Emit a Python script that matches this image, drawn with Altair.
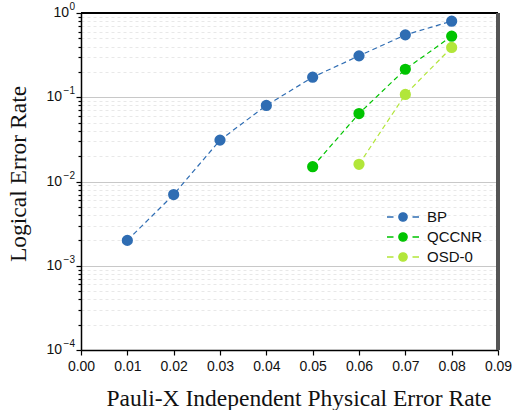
import altair as alt
import pandas as pd

# ---- data ----
bp_x = [0.01, 0.02, 0.03, 0.04, 0.05, 0.06, 0.07, 0.08]
bp_y = [0.002, 0.007, 0.031, 0.080, 0.173, 0.31, 0.55, 0.80]
qc_x = [0.05, 0.06, 0.07, 0.08]
qc_y = [0.015, 0.064, 0.215, 0.53]
osd_x = [0.06, 0.07, 0.08]
osd_y = [0.016, 0.108, 0.39]
series_names = ["BP", "QCCNR", "OSD-0"]
series_colors = ["#2f6db3", "#00c400", "#b2e63a"]

x_ticks = [round(i * 0.005, 3) for i in range(19)]
y_ticks = [k * 10.0 ** e for e in range(-4, 0) for k in range(1, 10)] + [1.0]
decade_exps = [0, -1, -2, -3, -4]

rows = []
for name, xs, ys in [("BP", bp_x, bp_y), ("QCCNR", qc_x, qc_y), ("OSD-0", osd_x, osd_y)]:
    for a, b in zip(xs, ys):
        rows.append({"series": name, "p": a, "ler": b})
df = pd.DataFrame(rows)
dec_df = pd.DataFrame({"e": decade_exps, "v": [10.0 ** e for e in decade_exps]})

W, H = 417, 337

is_major_x = "round(datum.value*1000) % 10 == 0"
is_decade = "abs(log(datum.value)/LN10 - round(log(datum.value)/LN10)) < 1e-6"

x_enc = alt.X(
    "p:Q",
    scale=alt.Scale(domain=[0, 0.09], nice=False, zero=False),
    axis=alt.Axis(
        values=x_ticks,
        title="Pauli-X Independent Physical Error Rate",
        labelExpr=f"{is_major_x} ? format(datum.value, '.2f') : ''",
        labelFlush=False,
        labelOverlap=False,
        tickSize={"condition": {"test": is_major_x, "value": 5}, "value": 3},
        gridOpacity={"condition": {"test": is_major_x, "value": 0}, "value": 1},
        gridColor="#dcdcdc",
        gridDash=[3, 3],
        gridWidth=0.8,
        labelFont="Liberation Sans",
        labelFontSize=14,
        labelColor="#111",
        labelPadding=4,
        titleFont="Liberation Serif",
        titleFontSize=23.5,
        titleFontWeight="normal",
        titleColor="#111",
        titleX=W / 2 + 9,
        titleY=55,
        titleBaseline="alphabetic",
        domainColor="#000",
        domainWidth=1.5,
        tickColor="#000",
        tickWidth=1.2,
    ),
)
y_enc = alt.Y(
    "ler:Q",
    scale=alt.Scale(type="log", domain=[1e-4, 1], nice=False),
    axis=alt.Axis(
        values=y_ticks,
        title="Logical Error Rate",
        labels=False,
        tickSize={"condition": {"test": is_decade, "value": 5}, "value": 3},
        gridDash={"condition": {"test": is_decade, "value": []}, "value": [3, 3]},
        gridColor={"condition": {"test": is_decade, "value": "#c8c8c8"}, "value": "#e2e2e2"},
        gridWidth={"condition": {"test": is_decade, "value": 1.2}, "value": 0.8},
        titleFont="Liberation Serif",
        titleFontSize=23.5,
        titleFontWeight="normal",
        titleColor="#111",
        titleX=-56,
        titleY=H / 2 - 8,
        titleBaseline="alphabetic",
        domainColor="#000",
        domainWidth=1.5,
        tickColor="#000",
        tickWidth=1.2,
    ),
)

color_scale = alt.Scale(domain=series_names, range=series_colors)

legend_path = ("M-1.6,0H-0.95M0.95,0H1.6"
               "M-0.42,0A0.42,0.42,0,1,0,0.42,0A0.42,0.42,0,1,0,-0.42,0Z")
leg = alt.Legend(title=None, orient="none", legendX=311, legendY=193,
                 symbolType=legend_path, symbolSize=400,
                 symbolStrokeWidth=1.3, labelOffset=13,
                 labelFont="Liberation Sans", labelFontSize=15,
                 labelColor="#111", rowPadding=1, padding=0)

lines = alt.Chart(df).mark_line(strokeDash=[5, 3.5], strokeWidth=1.2).encode(
    x=x_enc, y=y_enc,
    stroke=alt.Stroke("series:N", scale=color_scale, legend=leg),
    detail="series:N",
)

points = alt.Chart(df).mark_point(filled=True, size=85, opacity=1).encode(
    x="p:Q", y="ler:Q",
    fill=alt.Fill("series:N", scale=color_scale, legend=leg),
    stroke=alt.Stroke("series:N", scale=color_scale, legend=leg),
)

# y tick labels "10" with superscript exponent
base_lbl = alt.Chart(dec_df).transform_calculate(
    t="'10'", bx="datum.e == 0 ? -12 : -19"
).mark_text(align="right", baseline="middle", font="Liberation Sans",
            fontSize=14, color="#111").encode(
    x=alt.X("bx:Q", scale=None), y=alt.Y("v:Q"), text="t:N")
exp_lbl = alt.Chart(dec_df).transform_calculate(
    t="datum.e == 0 ? '0' : '\u2212' + abs(datum.e)"
).mark_text(align="right", baseline="middle", font="Liberation Sans",
            fontSize=10, dy=-6, color="#111").encode(
    x=alt.value(-6), y=alt.Y("v:Q"), text="t:N")

frame_top = alt.Chart(df).mark_rule(color="#000", strokeWidth=1.5).encode(
    x=alt.value(0), x2=alt.value(W), y=alt.value(0))
frame_right = alt.Chart(df).mark_rule(color="#555", strokeWidth=2.5).encode(
    x=alt.value(W), y=alt.value(0), y2=alt.value(H))

chart = alt.layer(lines, points, base_lbl, exp_lbl, frame_top, frame_right).properties(
    width=W, height=H,
    autosize=alt.AutoSizeParams(type="none"),
    padding={"left": 81, "top": 13, "right": 20, "bottom": 60},
).configure_view(stroke=None).configure(background="white")

chart.save("out.html", embed_options={"renderer": "svg", "actions": False})
